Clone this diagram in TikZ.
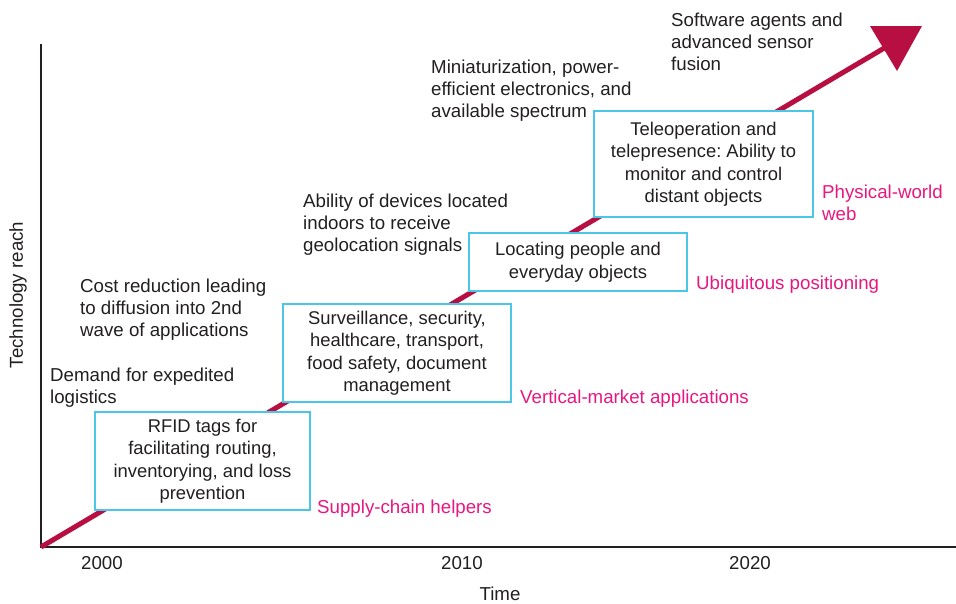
\documentclass[tikz,border=0pt]{standalone}
\usepackage{fontspec}
\setmainfont{Liberation Sans}
\usetikzlibrary{positioning}
\definecolor{trend}{HTML}{B80F42}
\definecolor{boxline}{HTML}{4CC6E6}
\definecolor{era}{HTML}{E8177F}
\definecolor{ink}{HTML}{231F20}
\frenchspacing

\begin{document}
\begin{tikzpicture}[
    x=1pt, y=-1pt,
    font=\fontsize{18.7}{22}\selectfont,
    stage/.style={rectangle, draw=boxline, line width=2.5pt, fill=white, text=ink, align=center, inner sep=0pt, font=\fontsize{18.4}{22.5}\selectfont},
    driver/.style={anchor=west, align=left, text=ink, inner sep=0pt, yshift=-2.5pt},
    eralabel/.style={anchor=west, align=left, text=era, inner sep=0pt, yshift=-2.5pt},
    axis/.style={line width=2.2pt, ink},
    tick/.style={text=ink, inner sep=0pt}
]
    \useasboundingbox (0,0) rectangle (956,603);

    % Axes
    \coordinate (orig) at (41,547);
    \coordinate (ytop) at (41,44);
    \coordinate (xend) at (956,547);
    \draw [axis] (ytop) -- (orig) -- (xend);

    % Trend line
    \coordinate (tip) at (886,47);
    \draw [trend, line width=5pt] (orig) -- (tip);
    \fill [trend] (870,26) -- (922,26) -- (897,71) -- cycle;

    % Boxes
    \node (rfid) [stage, minimum width=215pt, minimum height=98pt] at (202.5,461)
        {RFID tags for\\facilitating routing,\\inventorying, and loss\\prevention};
    \node (vert) [stage, minimum width=228pt, minimum height=98pt] at (397,353)
        {Surveillance, security,\\healthcare, transport,\\food safety, document\\management};
    \node (loc) [stage, minimum width=218pt, minimum height=58pt] at (578,262)
        {Locating people and\\everyday objects};
    \node (tele) [stage, minimum width=219pt, minimum height=106pt] at (703.5,164)
        {Teleoperation and\\telepresence: Ability to\\monitor and control\\distant objects};

    % Stage names
    \node (supply) [eralabel] at (317,506) {Supply-chain helpers};
    \node (market) [eralabel] at (520,396) {Vertical-market applications};
    \node (ubiq) [eralabel] at (696,282) {Ubiquitous positioning};
    \node (phys) [eralabel] at (822,200) {Physical-world\\web};

    % Drivers
    \node (demand) [driver] at (50,385) {Demand for expedited\\logistics};
    \node (cost) [driver] at (80,307) {Cost reduction leading\\to diffusion into 2nd\\wave of applications};
    \node (indoor) [driver] at (303,222) {Ability of devices located\\indoors to receive\\geolocation signals};
    \node (mini) [driver] at (431,88) {Miniaturization, power-\\efficient electronics, and\\available spectrum};
    \node (agents) [driver] at (671,39) {Software agents and\\advanced sensor\\fusion};

    % Axis labels
    \node (y2000) [tick] at (102,563) {2000};
    \node (y2010) [tick] at (462,563) {2010};
    \node (y2020) [tick] at (750,563) {2020};
    \node (time) [tick] at (500,594) {Time};
    \node (reach) [tick, rotate=90] at (18,295) {Technology reach};
\end{tikzpicture}
\end{document}
